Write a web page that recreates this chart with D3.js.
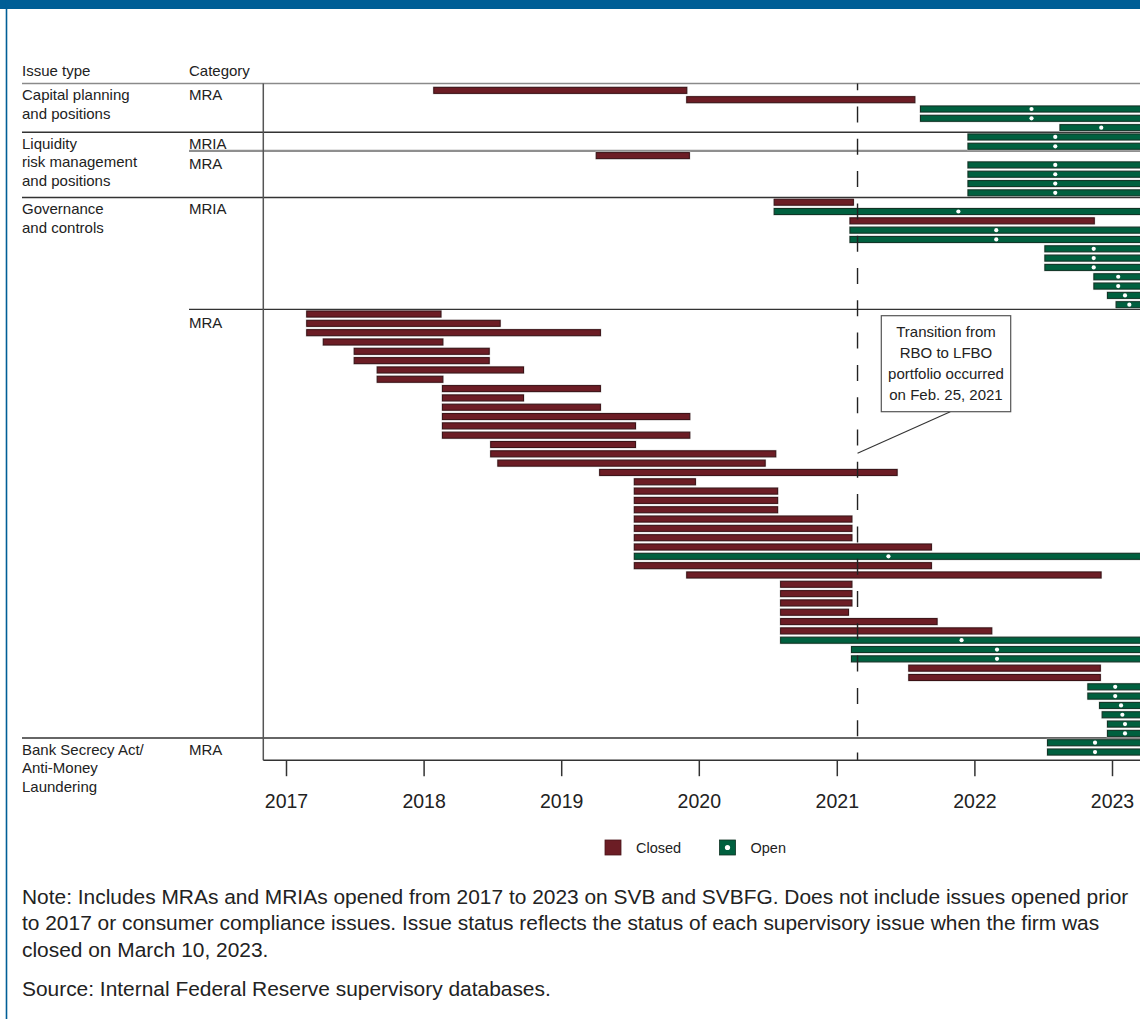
<!DOCTYPE html>
<html>
<head>
<meta charset="utf-8">
<script src="https://cdn.jsdelivr.net/npm/d3@7"></script>
<style>
  html, body { margin: 0; padding: 0; background: #fff; }
  svg { display: block; }
  text { font-family: "Liberation Sans", Arial, sans-serif; fill: #222; }
</style>
</head>
<body>
<svg id="chart" width="1140" height="1019"></svg>
<script>
// ---------------- DATA ----------------
const issueTypes = [
  ["Capital planning", "and positions"],
  ["Liquidity", "risk management", "and positions"],
  ["Governance", "and controls"],
  ["Bank Secrecy Act/", "Anti-Money", "Laundering"]
];
const sectionIssue    = [0, 1, 1, 2, 2, 3];
const sectionCategory = ["MRA", "MRIA", "MRA", "MRIA", "MRA", "MRA"];
const sectionRows     = [5, 2, 5, 12, 46, 2];

const rowStart = [
  "2018-01-28","2019-11-30","2021-08-11","2021-08-11","2022-08-16",
  "2021-12-15","2021-12-15",
  "2019-04-04","2021-12-15","2021-12-15","2021-12-15","2021-12-15",
  "2020-07-19","2020-07-19","2021-02-05","2021-02-05","2021-02-05","2022-07-07",
  "2022-07-07","2022-07-07","2022-11-14","2022-11-14","2022-12-20","2023-01-12",
  "2017-02-25","2017-02-25","2017-02-25","2017-04-10","2017-07-01","2017-07-01",
  "2017-08-31","2017-08-31","2018-02-20","2018-02-20","2018-02-20","2018-02-20",
  "2018-02-20","2018-02-20","2018-06-28","2018-06-28","2018-07-17","2019-04-13",
  "2019-07-14","2019-07-14","2019-07-14","2019-07-14","2019-07-14","2019-07-14",
  "2019-07-14","2019-07-14","2019-07-14","2019-07-14","2019-11-30","2020-08-05",
  "2020-08-05","2020-08-05","2020-08-05","2020-08-05","2020-08-05","2020-08-05",
  "2021-02-09","2021-02-09","2021-07-11","2021-07-11","2022-10-29","2022-10-29",
  "2022-11-29","2022-12-06","2022-12-20","2022-12-20",
  "2022-07-14","2022-07-14"
];
// null = still open when the firm was closed
const rowEnd = [
  "2019-11-30","2021-07-27",null,null,null,
  null,null,
  "2019-12-07",null,null,null,null,
  "2021-02-14",null,"2022-11-15",null,null,null,
  null,null,null,null,null,null,
  "2018-02-16","2018-07-23","2019-04-15","2018-02-21","2018-06-24","2018-06-24",
  "2018-09-23","2018-02-21","2019-04-15","2018-09-23","2019-04-15","2019-12-08",
  "2019-07-17","2019-12-08","2019-07-17","2020-07-23","2020-06-25","2021-06-10",
  "2019-12-23","2020-07-28","2020-07-28","2020-07-28","2021-02-10","2021-02-10",
  "2021-02-10","2021-09-09",null,"2021-09-09","2022-12-03","2021-02-10",
  "2021-02-10","2021-02-10","2021-02-01","2021-09-24","2022-02-16",null,
  null,null,"2022-12-01","2022-12-01",null,null,
  null,null,null,null,
  null,null
];
const openBarEnd = "2023-03-23";
const transitionDate = "2021-02-25";
const yearTicks = [2017, 2018, 2019, 2020, 2021, 2022, 2023];
const annotationLines = ["Transition from", "RBO to LFBO", "portfolio occurred", "on Feb. 25, 2021"];
const legendItems = ["Closed", "Open"];
const noteLines = [
  "Note: Includes MRAs and MRIAs opened from 2017 to 2023 on SVB and SVBFG. Does not include issues opened prior",
  "to 2017 or consumer compliance issues. Issue status reflects the status of each supervisory issue when the firm was",
  "closed on March 10, 2023."
];
const sourceLine = "Source: Internal Federal Reserve supervisory databases.";

// ---------------- STYLE ----------------
const BLUE = "#005e96";
const CLOSED_FILL = "#6c1d25", CLOSED_STROKE = "#3a1115";
const OPEN_FILL = "#00603f", OPEN_STROKE = "#0f3324";
const W = 1140, H = 1019;

const parse = d3.timeParse("%Y-%m-%d");
const rows = rowStart.map((s, i) => ({
  i, start: parse(s), end: rowEnd[i] ? parse(rowEnd[i]) : parse(openBarEnd),
  status: rowEnd[i] ? "Closed" : "Open"
}));
const nRows = rows.length;

const svg = d3.select("#chart");

// frame
svg.append("rect").attr("x", 0).attr("y", 0).attr("width", W).attr("height", 9).attr("fill", BLUE);
svg.append("line").attr("x1", 6.5).attr("x2", 6.5).attr("y1", 0).attr("y2", H)
  .attr("stroke", BLUE).attr("stroke-width", 1.6);

// scales
const x = d3.scaleTime()
  .domain([new Date(2017, 0, 1), new Date(2023, 0, 1)])
  .range([286, 1112]);
const y = d3.scaleBand().domain(d3.range(nRows)).range([85.7, 756.7]).paddingInner(0);
const step = y.step();
const rowC = i => y(i) + step / 2;

const plotLeft = 263.3, plotRight = W;
const topLineY = y(0) - 2.2;
const axisY = y.range()[1] + 3.5;
const issueX = 22, catX = 189;

// headers
svg.append("text").attr("x", issueX).attr("y", 76).attr("font-size", 15).text("Issue type");
svg.append("text").attr("x", catX).attr("y", 76).attr("font-size", 15).text("Category");

// section boundaries
const sectionStart = [];
let acc = 0;
sectionRows.forEach(n => { sectionStart.push(acc); acc += n; });

// top line
svg.append("line").attr("x1", issueX).attr("x2", plotRight).attr("y1", topLineY).attr("y2", topLineY)
  .attr("stroke", "#8a8a8a").attr("stroke-width", 1.6);

sectionStart.forEach((s, k) => {
  const top = k === 0 ? topLineY : y(s);
  const newIssue = k === 0 || sectionIssue[k] !== sectionIssue[k - 1];
  if (k > 0) {
    const grey = !newIssue && sectionCategory[k - 1] === "MRIA" && sectionRows[k - 1] < 5;
    svg.append("line")
      .attr("x1", newIssue ? issueX : catX).attr("x2", plotRight)
      .attr("y1", top).attr("y2", top)
      .attr("stroke", grey ? "#8f8f8f" : "#333")
      .attr("stroke-width", grey ? 2.2 : 1.4);
  }
  if (newIssue) {
    const t = svg.append("text").attr("x", issueX).attr("font-size", 15);
    issueTypes[sectionIssue[k]].forEach((ln, j) => {
      t.append("tspan").attr("x", issueX).attr("y", top + 16.5 + j * 18.5).text(ln);
    });
  }
  svg.append("text").attr("x", catX).attr("y", top + (newIssue ? 16.5 : 18.2))
    .attr("font-size", 15).text(sectionCategory[k]);
});

// vertical axis line
svg.append("line").attr("x1", plotLeft).attr("x2", plotLeft).attr("y1", topLineY).attr("y2", axisY)
  .attr("stroke", "#555").attr("stroke-width", 1.5);

// bars
const barH = 6;
const gBars = svg.append("g");
gBars.selectAll("rect.halo").data(rows).join("rect").attr("class", "halo")
  .attr("x", d => x(d.start) - 1).attr("y", d => rowC(d.i) - barH / 2 - 1)
  .attr("width", d => x(d.end) - x(d.start) + 2).attr("height", barH + 2)
  .attr("fill", "#cdcdcd");
gBars.selectAll("rect.bar").data(rows).join("rect").attr("class", "bar")
  .attr("x", d => x(d.start)).attr("y", d => rowC(d.i) - barH / 2)
  .attr("width", d => x(d.end) - x(d.start)).attr("height", barH)
  .attr("fill", d => d.status === "Closed" ? CLOSED_FILL : OPEN_FILL)
  .attr("stroke", d => d.status === "Closed" ? CLOSED_STROKE : OPEN_STROKE)
  .attr("stroke-width", 1);
gBars.selectAll("circle").data(rows.filter(d => d.status === "Open")).join("circle")
  .attr("cx", d => (x(d.start) + x(d.end)) / 2).attr("cy", d => rowC(d.i))
  .attr("r", 2.1).attr("fill", "#fff");

// transition dashed line
const tx = x(parse(transitionDate));
svg.append("line").attr("x1", tx).attr("x2", tx).attr("y1", topLineY).attr("y2", axisY)
  .attr("stroke", "#222").attr("stroke-width", 1.4)
  .attr("stroke-dasharray", "16 16.3").attr("stroke-dashoffset", 9.3);

// bottom axis
svg.append("line").attr("x1", plotLeft).attr("x2", plotRight).attr("y1", axisY).attr("y2", axisY)
  .attr("stroke", "#333").attr("stroke-width", 1.5);
const axis = d3.axisBottom(x)
  .tickValues(yearTicks.map(yv => new Date(yv, 0, 1)))
  .tickFormat(d3.timeFormat("%Y"))
  .tickSize(16).tickPadding(18);
const gAxis = svg.append("g").attr("transform", `translate(0,${axisY})`).call(axis);
gAxis.select(".domain").remove();
gAxis.selectAll(".tick line").attr("stroke", "#333").attr("stroke-width", 1.5);
gAxis.selectAll(".tick text").attr("font-size", 19.5)
  .attr("font-family", "'Liberation Sans', Arial, sans-serif").attr("fill", "#222");

// annotation
const box = { x: 881.3, y: 315.7, w: 129.4, h: 96 };
svg.append("line").attr("x1", box.x + 69).attr("y1", box.y + box.h).attr("x2", tx).attr("y2", 453.3)
  .attr("stroke", "#333").attr("stroke-width", 1.1);
svg.append("rect").attr("x", box.x).attr("y", box.y).attr("width", box.w).attr("height", box.h)
  .attr("fill", "#fff").attr("stroke", "#555").attr("stroke-width", 1.2);
annotationLines.forEach((ln, j) => {
  svg.append("text").attr("x", box.x + box.w / 2).attr("y", box.y + 21 + j * 21.1)
    .attr("text-anchor", "middle").attr("font-size", 15).text(ln);
});

// legend
const lg = svg.append("g");
const legendX = [605, 719.5];
legendItems.forEach((name, k) => {
  const fill = name === "Closed" ? CLOSED_FILL : OPEN_FILL;
  const stroke = name === "Closed" ? "#4a161b" : OPEN_STROKE;
  lg.append("rect").attr("x", legendX[k]).attr("y", 840).attr("width", 16).attr("height", 15)
    .attr("fill", fill).attr("stroke", stroke).attr("stroke-width", 0.8);
  if (name === "Open") {
    lg.append("circle").attr("cx", legendX[k] + 8).attr("cy", 847.5).attr("r", 2.6).attr("fill", "#fff");
  }
  lg.append("text").attr("x", legendX[k] + 31).attr("y", 852.5).attr("font-size", 14.5).text(name);
});

// notes
const gNote = svg.append("g");
const probe = gNote.append("text").attr("font-size", 16).text(noteLines[0]);
const len16 = probe.node().getComputedTextLength();
probe.remove();
const noteSize = 16 * 1107 / len16;
noteLines.forEach((ln, j) => {
  gNote.append("text").attr("x", issueX).attr("y", 904 + j * 26.3).attr("font-size", noteSize).text(ln);
});
gNote.append("text").attr("x", issueX).attr("y", 996).attr("font-size", noteSize).text(sourceLine);
</script>
</body>
</html>
